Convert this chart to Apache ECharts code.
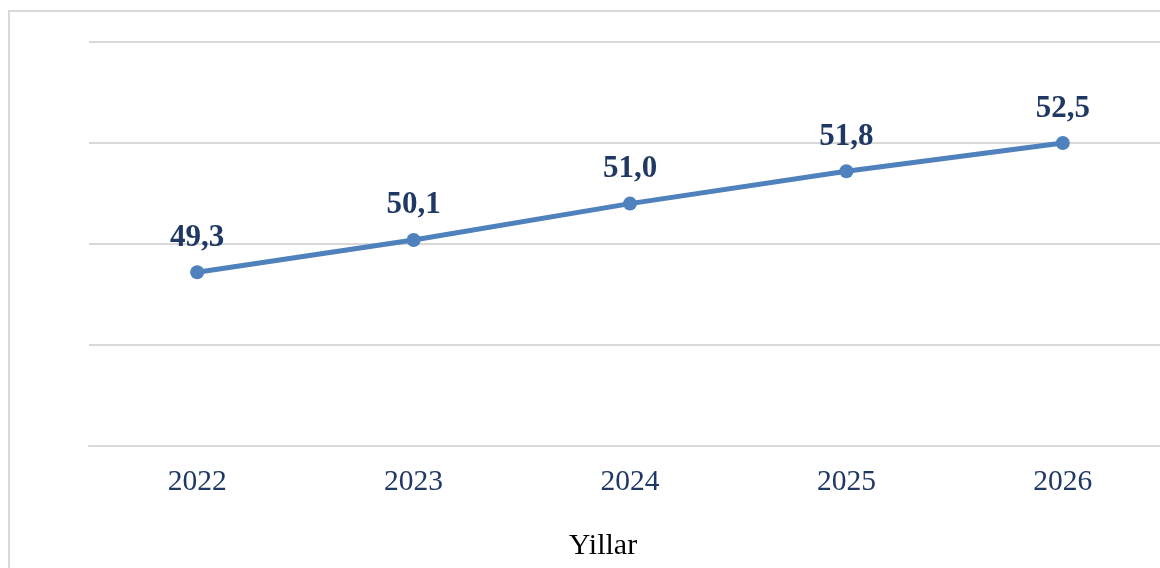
<!DOCTYPE html>
<html>
<head>
<meta charset="utf-8">
<script src="https://cdn.jsdelivr.net/npm/echarts@6/dist/echarts.min.js"></script>
<style>
  html, body { margin: 0; padding: 0; background: #fff; overflow: hidden; }
  #wrap { width: 1160px; height: 568px; overflow: hidden; }
  #main { width: 1172px; height: 568px; }
</style>
</head>
<body>
<div id="wrap"><div id="main"></div></div>
<script>
// yillar ve degerler
var years = ['2022', '2023', '2024', '2025', '2026'];
var values = [49.3, 50.1, 51.0, 51.8, 52.5];
var axisName = 'Yillar';

var chart = echarts.init(document.getElementById('main'));

var option = {
  backgroundColor: '#fff',
  animation: false,
  title: {
    text: axisName,
    left: 598,
    top: 526,
    textAlign: 'center',
    textStyle: { fontFamily: 'Liberation Serif', fontSize: 30, fontWeight: 'normal', color: '#000' }
  },
  graphic: [{
    type: 'rect',
    shape: { x: 9, y: 11, width: 1200, height: 600 },
    style: { fill: 'none', stroke: '#d9d9d9', lineWidth: 2 },
    silent: true
  }],
  grid: { left: 89, top: 42, width: 1082, height: 404 },
  xAxis: {
    type: 'category',
    data: years,
    boundaryGap: true,
    axisLine: { lineStyle: { color: '#d9d9d9', width: 2 } },
    axisTick: { show: false },
    axisLabel: {
      margin: 21,
      fontFamily: 'Liberation Serif',
      fontSize: 29.5,
      color: '#1f3864'
    }
  },
  yAxis: {
    type: 'value',
    min: 45,
    max: 55,
    interval: 2.5,
    axisLabel: { show: false },
    axisLine: { show: false },
    axisTick: { show: false },
    splitLine: { lineStyle: { color: '#d9d9d9', width: 2 } }
  },
  series: [{
    type: 'line',
    data: values,
    symbol: 'circle',
    symbolSize: 14,
    lineStyle: { color: '#4f81bd', width: 5 },
    itemStyle: { color: '#4f81bd' },
    label: {
      show: true,
      position: 'top',
      distance: 12,
      fontFamily: 'Liberation Serif',
      fontSize: 31,
      fontWeight: 'bold',
      color: '#1f3864',
      formatter: function (p) { return p.value.toFixed(1).replace('.', ','); }
    }
  }]
};

chart.setOption(option);
</script>
</body>
</html>
